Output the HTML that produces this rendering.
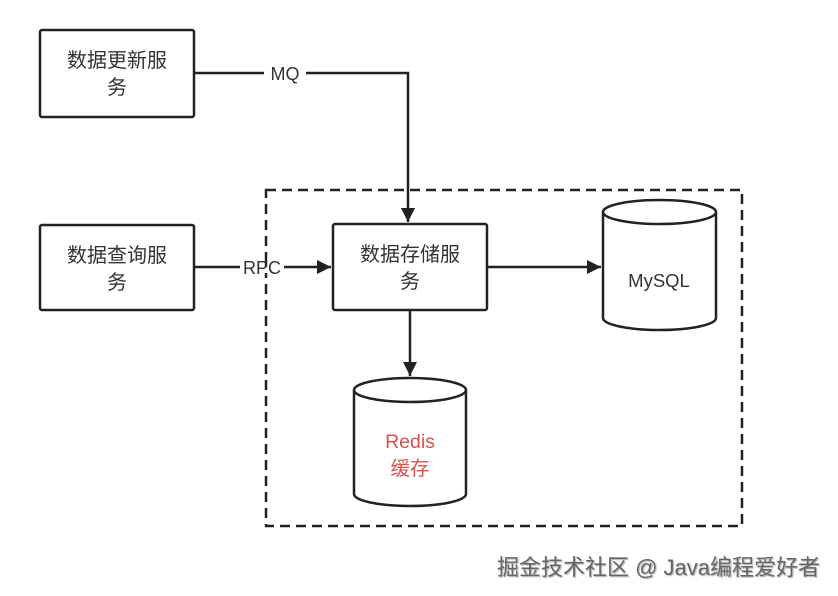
<!DOCTYPE html>
<html><head><meta charset="utf-8"><style>
body{margin:0;background:#fff;width:838px;height:596px;overflow:hidden}
svg{display:block}
text{font-family:"Liberation Sans","Noto Sans CJK SC",sans-serif}
</style></head><body>
<svg width="838" height="596" viewBox="0 0 838 596">
<defs>
<marker id="b" viewBox="0 0 10 10" markerWidth="16" markerHeight="14" refX="10" refY="5" orient="auto" markerUnits="userSpaceOnUse"><path d="M0,0 L10,5 L0,10 Z" fill="#222"/></marker>
<filter id="sh" x="-5%" y="-30%" width="110%" height="160%"><feDropShadow dx="1" dy="1" stdDeviation="0.6" flood-color="#000" flood-opacity="0.35"/></filter>
</defs>
<g stroke="#222" stroke-width="2.5" fill="#fff">
<rect x="266" y="190" width="476" height="336" fill="none" stroke-dasharray="10,6"/>
<rect x="40" y="30" width="154" height="87" rx="2"/>
<rect x="40" y="225" width="154" height="85" rx="2"/>
<rect x="333" y="224" width="154" height="86" rx="2"/>
<path d="M194,73 H408 V222" fill="none" marker-end="url(#b)"/>
<path d="M194,267 H331" fill="none" marker-end="url(#b)"/>
<path d="M487,267 H601" fill="none" marker-end="url(#b)"/>
<path d="M410,310 V376" fill="none" marker-end="url(#b)"/>
<path d="M603,212 V318 A56.5,12 0 0 0 716,318 V212 A56.5,12 0 0 0 603,212 Z"/>
<path d="M603,212 A56.5,12 0 0 0 716,212" fill="none"/>
<path d="M354,390 V494 A56,12 0 0 0 466,494 V390 A56,12 0 0 0 354,390 Z"/>
<path d="M354,390 A56,12 0 0 0 466,390" fill="none"/>
</g>
<rect x="264" y="62" width="42" height="22" fill="#fff"/>
<text x="285" y="80" font-size="18" text-anchor="middle" fill="#333">MQ</text>
<rect x="240" y="257" width="44" height="20" fill="#fff"/>
<path d="M266,257 V277" stroke="#222" stroke-width="2.5" stroke-dasharray="10,6"/>
<text x="262" y="274" font-size="18" text-anchor="middle" fill="#333">RPC</text>
<g font-size="20" fill="#333" text-anchor="middle">
<text x="117" y="67">数据更新服</text><text x="117" y="94">务</text>
<text x="117" y="262">数据查询服</text><text x="117" y="289">务</text>
<text x="410" y="261">数据存储服</text><text x="410" y="288">务</text>
<text x="659" y="287" font-size="18.5">MySQL</text>
</g>
<g font-size="19.5" fill="#d9534f" text-anchor="middle">
<text x="410" y="448">Redis</text><text x="410" y="475">缓存</text>
</g>
<text x="820" y="575" font-size="22" text-anchor="end" fill="#666" filter="url(#sh)">掘金技术社区 @ Java编程爱好者</text>
</svg>
</body></html>
